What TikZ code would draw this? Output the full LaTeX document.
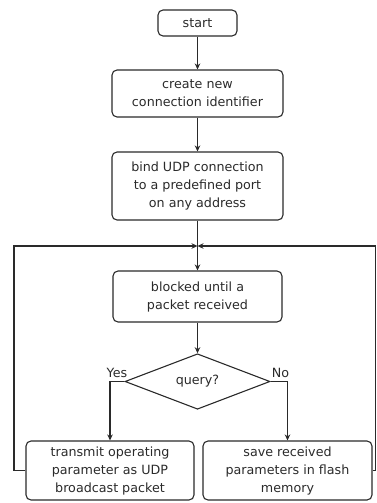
\documentclass[tikz,border=0pt]{standalone}
\usepackage{fontspec}
\setmainfont{DejaVu Sans}
\usetikzlibrary{shapes.geometric,arrows.meta}
\definecolor{ink}{HTML}{2A2A2A}
\begin{document}
\begin{tikzpicture}[x=1pt,y=-1pt,
  box/.style={draw=ink,line width=1.1pt,rounded corners=5pt,inner sep=0pt,align=center,
    font=\fontsize{12.7}{18}\selectfont,text=ink},
  dec/.style={draw=ink,line width=1.1pt,shape=diamond,inner sep=0pt,
    font=\fontsize{12.7}{18}\selectfont,text=ink},
  conn/.style={draw=ink,line width=1.1pt,-{Stealth[length=6pt,width=5.5pt]}},
  lbl/.style={font=\fontsize{12.7}{14}\selectfont,text=ink,inner sep=0pt}]
\useasboundingbox (0,0) rectangle (376,503);
\node[box,minimum width=79pt,minimum height=26pt] (start) at (197.5,23) {start};
\node[box,minimum width=171pt,minimum height=47pt] (create) at (197.5,93.5) {create new\\connection identifier};
\node[box,minimum width=171pt,minimum height=68pt] (bind) at (197.5,186) {bind UDP connection\\to a predefined port\\on any address};
\coordinate (j) at (197.5,246);
\node[box,minimum width=169pt,minimum height=51pt] (blocked) at (197.5,296.5) {blocked until a\\packet received};
\node[dec,minimum width=145pt,minimum height=51pt] (q) at (197.5,381.5) {query?};
\node[box,minimum width=168pt,minimum height=59pt] (tx) at (110,470.5) {transmit operating\\parameter as UDP\\broadcast packet};
\node[box,minimum width=169pt,minimum height=59pt] (save) at (287.5,470.5) {save received\\parameters in flash\\memory};
\coordinate (ll) at (14,246);
\coordinate (rr) at (375.5,246);
\draw[conn] (start) -- (create);
\draw[conn] (create) -- (bind);
\draw[conn] (bind) -- (blocked);
\draw[conn] (blocked) -- (q);
\draw[conn] (q.west) -| (tx.north);
\draw[conn] (q.east) -| (save.north);
\draw[conn] (tx.west) -| (ll) -- (j);
\draw[conn] (save.east) -| (rr) -- (j);
\node[lbl,anchor=south east] at ([xshift=3pt,yshift=4pt]q.west) {Yes};
\node[lbl,anchor=south west] at ([xshift=1pt,yshift=4pt]q.east) {No};
\end{tikzpicture}
\end{document}
